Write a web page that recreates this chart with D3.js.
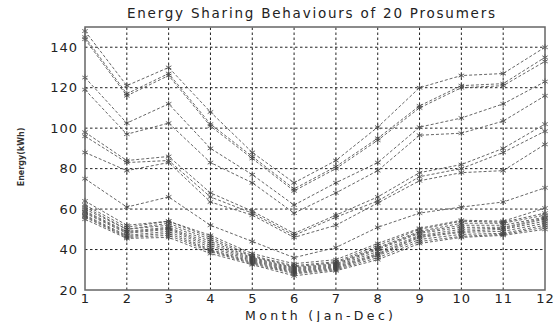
<!DOCTYPE html>
<html>
<head>
<meta charset="utf-8">
<script src="https://cdn.jsdelivr.net/npm/d3@7"></script>
<style>
  body { margin: 0; background: #fff; }
  svg { display: block; font-family: "DejaVu Sans", Arial, sans-serif; }
</style>
</head>
<body>
<svg id="chart"></svg>
<script>
const months = [1, 2, 3, 4, 5, 6, 7, 8, 9, 10, 11, 12];
const yTicks = [20, 40, 60, 80, 100, 120, 140];

// energy per prosumer (kWh), Jan..Dec
const p01 = [148, 121, 130, 108, 88, 73, 84, 100.5, 120, 126, 127, 140];
const p02 = [145, 117, 127, 102, 86, 70, 81, 95, 111, 121, 122, 135];
const p03 = [144, 116, 126, 101, 85, 69, 80, 94, 110, 120, 121, 133];
const p04 = [125, 102.5, 112, 90, 77, 62, 73, 83, 100.5, 105, 112, 123];
const p05 = [119, 97, 102.5, 83, 73, 58, 68, 79, 96.5, 97.5, 103.5, 116];
const p06 = [98, 84, 86, 68, 59, 48, 57, 66, 78, 82, 90, 102];
const p07 = [96, 83, 84, 66, 58, 47, 56, 64, 76, 80, 88, 98.5];
const p08 = [88, 79, 83, 63.5, 57, 46, 52, 63, 74, 78, 79, 92];
const p09 = [75, 61, 66, 52, 44, 36, 41, 51, 58, 61, 63.5, 70.5];
const p10 = [64, 52, 54, 47, 38, 33, 35, 43, 50.5, 54.5, 54, 60.5];
const p11 = [62, 51, 54, 46, 37, 32, 34, 42, 50, 54, 53.5, 58];
const p12 = [61, 50, 53, 45, 36.5, 31.5, 33.5, 41, 49, 53, 53, 57];
const p13 = [60, 50, 52, 44, 36, 31, 33, 40.5, 48.5, 52, 52, 56];
const p14 = [59, 49, 51, 43, 35.5, 30.5, 32.5, 40, 48, 51, 51, 55.5];
const p15 = [58.5, 48.5, 50.5, 42, 35, 30, 32, 39, 47, 50, 50.5, 55];
const p16 = [58, 48, 50, 41, 34.5, 29.5, 31.5, 38, 46.5, 49, 50, 54];
const p17 = [57, 47, 49, 40, 34, 29, 31, 37.5, 46, 48.5, 49, 53];
const p18 = [56.5, 46.5, 48, 39.5, 33.5, 28.5, 30.5, 37, 45, 47.5, 48, 52];
const p19 = [56, 46, 47, 39, 33, 28, 30, 36, 44, 46.5, 47.5, 51];
const p20 = [55, 45.5, 46, 38, 32.5, 27, 29.5, 35, 43, 46, 47, 50];

const series = [p01, p02, p03, p04, p05, p06, p07, p08, p09, p10,
                p11, p12, p13, p14, p15, p16, p17, p18, p19, p20];

const width = 560, height = 322;
const margin = { top: 27, right: 15, bottom: 32, left: 85 };

const svg = d3.select('#chart')
  .attr('width', width)
  .attr('height', height);

const x = d3.scaleLinear().domain([1, 12]).range([margin.left, width - margin.right]);
const y = d3.scaleLinear().domain([20, 150]).range([height - margin.bottom, margin.top]);

// grid
svg.append('g')
  .selectAll('line')
  .data(months.slice(1, -1))
  .join('line')
  .attr('x1', d => x(d)).attr('x2', d => x(d))
  .attr('y1', y(20)).attr('y2', y(150))
  .attr('stroke', '#222')
  .attr('stroke-dasharray', '2.5,2.5');

svg.append('g')
  .selectAll('line')
  .data(yTicks.slice(1))
  .join('line')
  .attr('x1', x(1)).attr('x2', x(12))
  .attr('y1', d => y(d)).attr('y2', d => y(d))
  .attr('stroke', '#222')
  .attr('stroke-dasharray', '2.5,2.5');

// series
const line = d3.line()
  .x((d, i) => x(months[i]))
  .y(d => y(d));

svg.append('g')
  .selectAll('path')
  .data(series)
  .join('path')
  .attr('d', line)
  .attr('fill', 'none')
  .attr('stroke', '#555')
  .attr('stroke-width', 0.9)
  .attr('stroke-dasharray', '3,2');

const star = d3.symbol().type(d3.symbolAsterisk).size(28);
const marks = svg.append('g');
series.forEach(s => {
  marks.selectAll(null)
    .data(s)
    .join('path')
    .attr('transform', (d, i) => `translate(${x(months[i])},${y(d)})`)
    .attr('d', star)
    .attr('fill', 'none')
    .attr('stroke', '#444')
    .attr('stroke-width', 0.8);
});

// frame
svg.append('rect')
  .attr('x', x(1)).attr('y', y(150))
  .attr('width', x(12) - x(1)).attr('height', y(20) - y(150))
  .attr('fill', 'none')
  .attr('stroke', '#666')
  .attr('stroke-width', 1.5);

// axes
const xAxis = svg.append('g')
  .attr('transform', `translate(0,${y(20)})`)
  .call(d3.axisBottom(x).tickValues(months).tickSize(0).tickPadding(4).tickFormat(d3.format('d')));
xAxis.select('.domain').remove();
xAxis.selectAll('text').attr('font-size', 13).attr('fill', '#222')
  .attr('letter-spacing', 1)
  .attr('font-family', '"DejaVu Sans", Arial, sans-serif');

const yAxis = svg.append('g')
  .attr('transform', `translate(${x(1)},0)`)
  .call(d3.axisLeft(y).tickValues(yTicks).tickSize(0).tickPadding(7));
yAxis.select('.domain').remove();
yAxis.selectAll('text').attr('font-size', 13).attr('fill', '#222')
  .attr('letter-spacing', 1)
  .attr('font-family', '"DejaVu Sans", Arial, sans-serif');

// labels
svg.append('text')
  .attr('x', 127).attr('y', 18)
  .attr('font-size', 13.5)
  .attr('fill', '#222')
  .attr('textLength', 368)
  .attr('lengthAdjust', 'spacing')
  .text('Energy Sharing Behaviours of 20 Prosumers');

svg.append('text')
  .attr('x', 245).attr('y', 320)
  .attr('font-size', 12.5)
  .attr('fill', '#222')
  .attr('textLength', 148)
  .attr('lengthAdjust', 'spacing')
  .text('Month (Jan-Dec)');

svg.append('text')
  .attr('transform', 'translate(24,157) rotate(-90)')
  .attr('text-anchor', 'middle')
  .attr('font-size', 8)
  .attr('font-weight', 'bold')
  .attr('fill', '#333')
  .text('Energy(kWh)');
</script>
</body>
</html>
